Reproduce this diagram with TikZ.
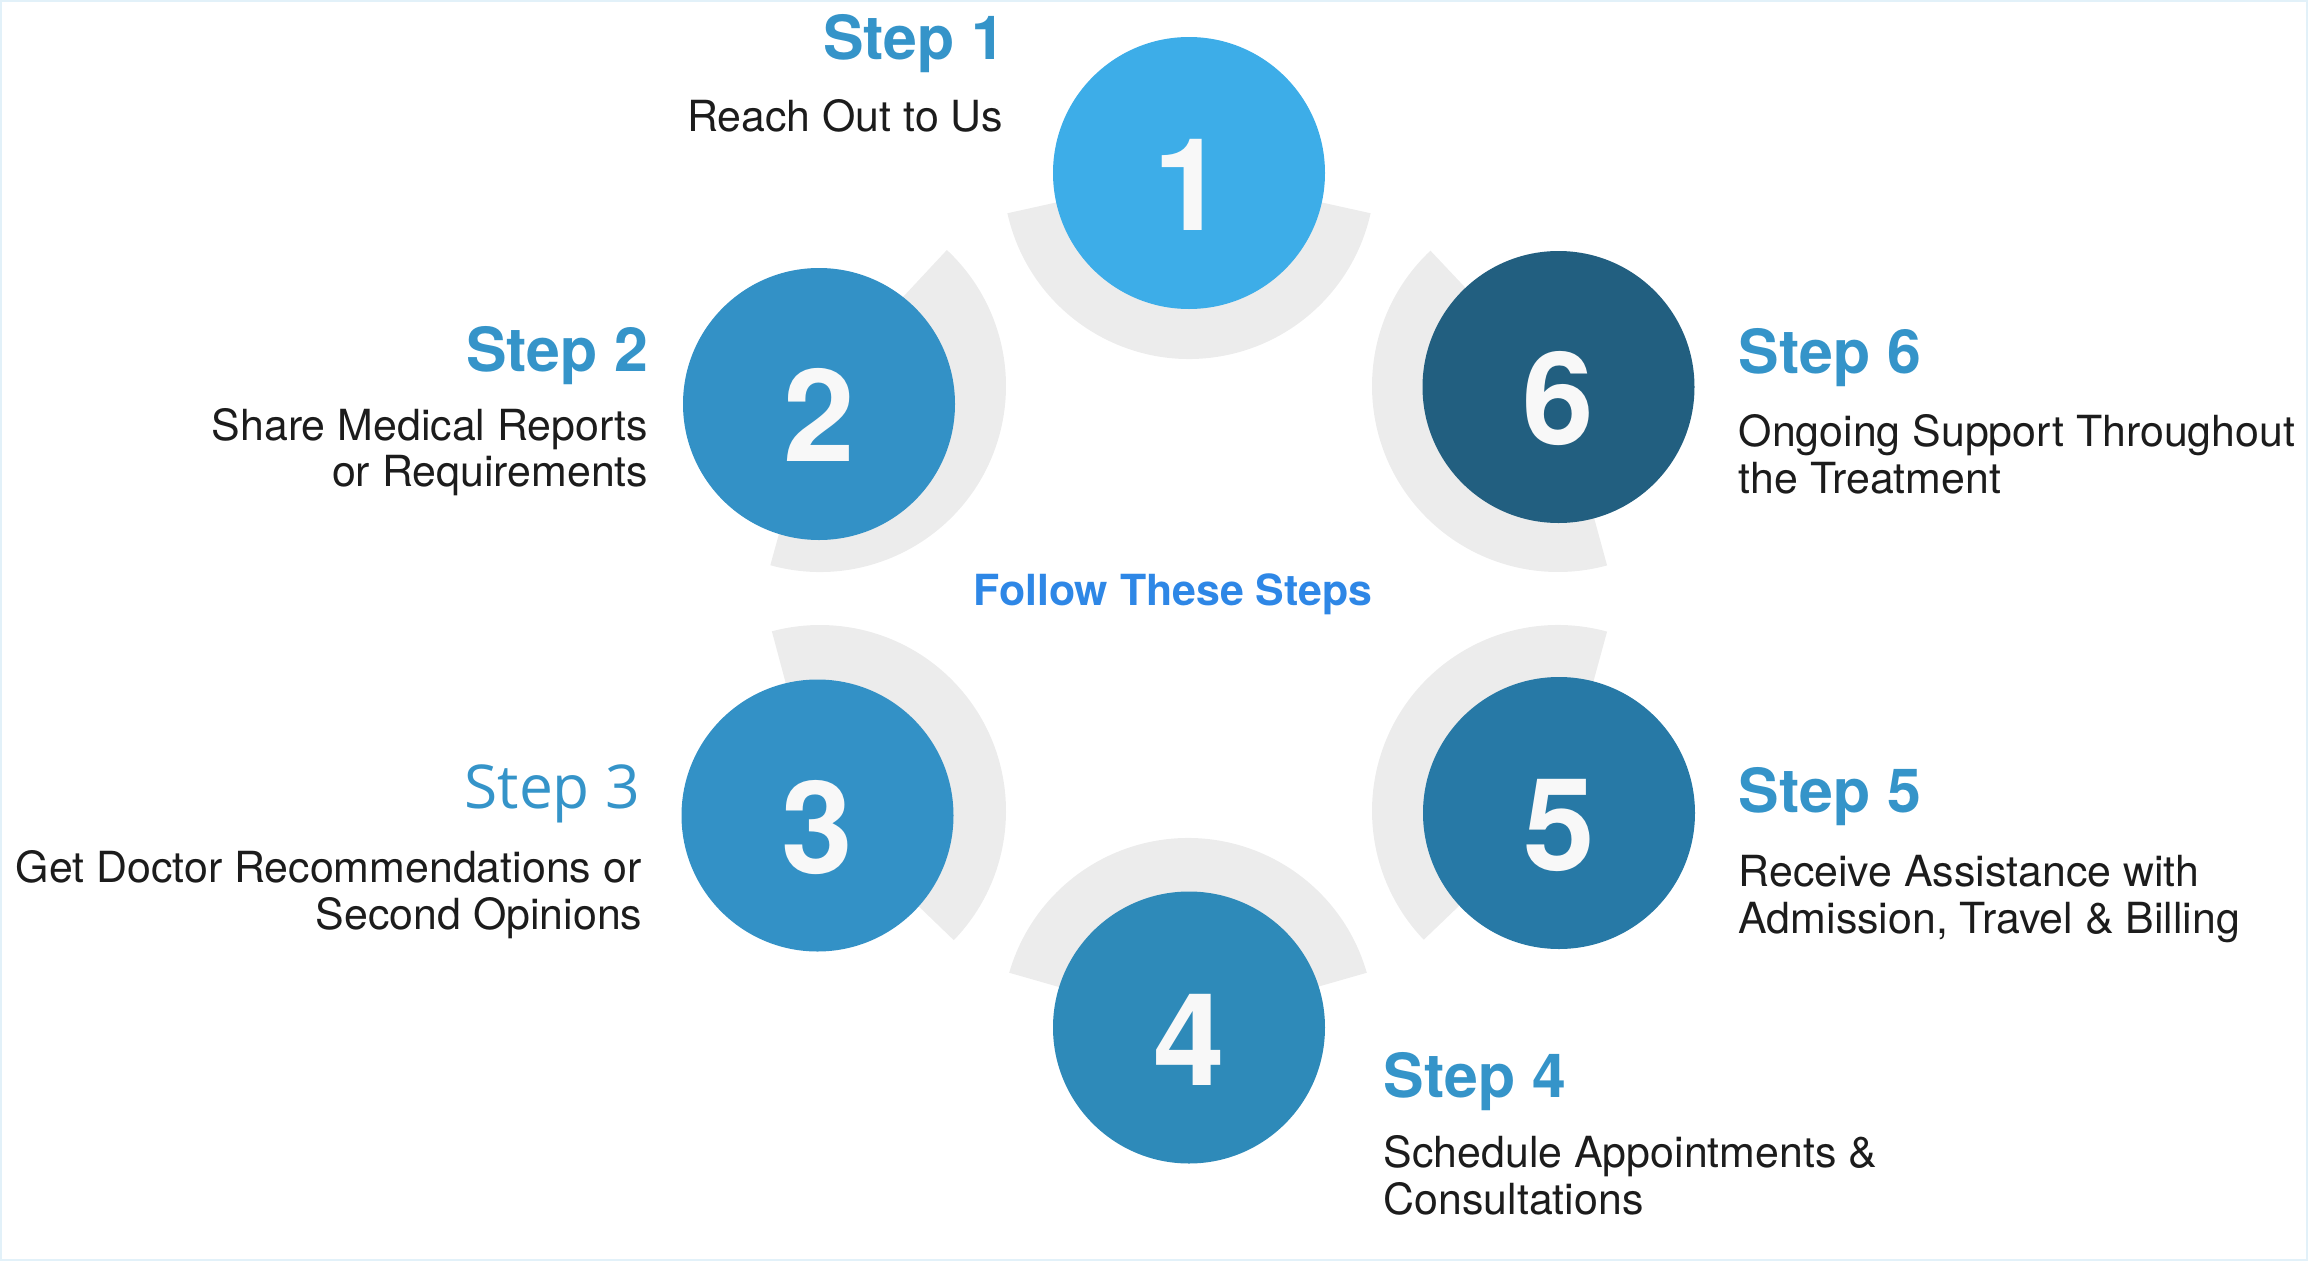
\documentclass[tikz,border=0pt]{standalone}
\usepackage{fontspec}
\setmainfont{TeX Gyre Heros}
\newfontfamily\opensans{Open Sans}
\definecolor{stepone}{HTML}{3DADE8}
\definecolor{steptwo}{HTML}{3391C6}
\definecolor{stepfour}{HTML}{2E8AB9}
\definecolor{stepfive}{HTML}{2779A6}
\definecolor{stepsix}{HTML}{225F80}
\definecolor{titleblue}{HTML}{3594C9}
\definecolor{followblue}{HTML}{2E87E6}
\definecolor{ringgrey}{HTML}{ECECEC}
\definecolor{digitwhite}{HTML}{F8F8F8}
\definecolor{bodyblack}{HTML}{1C1C1C}
\definecolor{frameblue}{HTML}{E2F1F9}

\begin{document}
\begin{tikzpicture}[
  ring/.style={fill=ringgrey},
  stepcircle/.style={circle, minimum size=2.72cm, inner sep=0pt, text=digitwhite,
    font=\fontsize{36.6}{36.6}\selectfont\bfseries, text height=1.15cm, text depth=0pt},
  steptitle/.style={inner sep=0pt, text=titleblue, font=\fontsize{17.3}{20}\selectfont\bfseries},
  stepline/.style={inner sep=0pt, text=bodyblack, font=\fontsize{12.2}{13.4}\selectfont}
]
\useasboundingbox (0,0) rectangle (23.08,-12.61);
\draw[frameblue, line width=0.6pt] (0.01,-0.01) rectangle (23.07,-12.60);

% grey rings behind the circles
\fill[ring] (11.89,-1.73) -- ++(192.5:1.86) arc[start angle=192.5, end angle=347.5, radius=1.86] -- cycle;
\fill[ring] (8.20,-3.86) -- ++(-105.5:1.86) arc[start angle=-105.5, end angle=47, radius=1.86] -- cycle;
\fill[ring] (8.20,-8.11) -- ++(-44:1.86) arc[start angle=-44, end angle=105, radius=1.86] -- cycle;
\fill[ring] (11.88,-10.24) -- ++(16:1.86) arc[start angle=16, end angle=164, radius=1.86] -- cycle;
\fill[ring] (15.58,-8.11) -- ++(74.7:1.86) arc[start angle=74.7, end angle=223.8, radius=1.86] -- cycle;
\fill[ring] (15.58,-3.86) -- ++(133.3:1.86) arc[start angle=133.3, end angle=285.3, radius=1.86] -- cycle;

\node[stepcircle, fill=stepone] (c1) at (11.89,-1.73) {1};
\node[stepcircle, fill=steptwo] (c2) at (8.19,-4.04) {2};
\node[stepcircle, fill=steptwo] (c3) at (8.175,-8.155) {3};
\node[stepcircle, fill=stepfour] (c4) at (11.89,-10.275) {4};
\node[stepcircle, fill=stepfive] (c5) at (15.59,-8.13) {5};
\node[stepcircle, fill=stepsix] (c6) at (15.585,-3.87) {6};

\node[inner sep=0pt, text=followblue, font=\fontsize{12.2}{14}\selectfont\bfseries, anchor=base] (follow) at (11.73,-6.05) {Follow These Steps};

\node[steptitle, anchor=base east] (title1) at (10.06,-0.593) {Step 1};
\node[stepline, anchor=base east] (text1a) at (10.04,-1.317) {Reach Out to Us};

\node[steptitle, anchor=base east] (title2) at (6.49,-3.717) {Step 2};
\node[stepline, anchor=base east] (text2a) at (6.49,-4.40) {Share Medical Reports};
\node[stepline, anchor=base east] (text2b) at (6.49,-4.867) {or Requirements};

\node[inner sep=0pt, text=titleblue, font=\fontsize{17.2}{20}\selectfont\opensans, anchor=base east] (title3) at (6.41,-8.08) {Step 3};
\node[stepline, anchor=base east] (text3a) at (6.42,-8.82) {Get Doctor Recommendations or};
\node[stepline, anchor=base east] (text3b) at (6.43,-9.29) {Second Opinions};

\node[steptitle, anchor=base west] (title4) at (13.83,-10.97) {Step 4};
\node[stepline, anchor=base west] (text4a) at (13.83,-11.67) {Schedule Appointments \&};
\node[stepline, anchor=base west] (text4b) at (13.83,-12.14) {Consultations};

\node[steptitle, anchor=base west] (title5) at (17.38,-8.12) {Step 5};
\node[stepline, anchor=base west] (text5a) at (17.38,-8.86) {Receive Assistance with};
\node[stepline, anchor=base west] (text5b) at (17.38,-9.33) {Admission, Travel \& Billing};

\node[steptitle, anchor=base west] (title6) at (17.38,-3.733) {Step 6};
\node[stepline, anchor=base west] (text6a) at (17.38,-4.467) {Ongoing Support Throughout};
\node[stepline, anchor=base west] (text6b) at (17.38,-4.933) {the Treatment};
\end{tikzpicture}
\end{document}
